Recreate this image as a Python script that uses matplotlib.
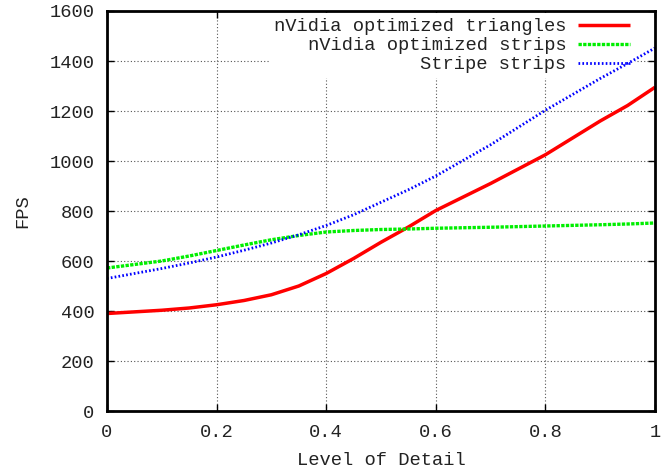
import matplotlib
matplotlib.use("Agg")
import matplotlib.pyplot as plt

# Level of detail samples
lod = [0.0, 0.1, 0.15, 0.2, 0.25, 0.3, 0.35, 0.4, 0.45, 0.5, 0.55, 0.6, 0.7, 0.8, 0.9, 0.95, 1.0]

fps_nv_tri = [390, 403, 412, 425, 442, 465, 500, 550, 610, 675, 736, 802, 910, 1025, 1160, 1222, 1295]
fps_nv_strips = [572, 600, 620, 642, 664, 685, 702, 716, 722, 726, 728, 731, 735, 740, 745, 748, 752]
fps_stripe = [530, 570, 592, 616, 643, 672, 705, 742, 785, 835, 885, 940, 1065, 1203, 1330, 1390, 1452]

labels = ["nVidia optimized triangles", "nVidia optimized strips", "Stripe strips"]

plt.rcParams['font.family'] = ['Liberation Mono', 'DejaVu Sans Mono']
plt.rcParams['font.size'] = 13.5

fig = plt.figure(figsize=(6.62, 4.69), dpi=100)
ax = fig.add_axes([107 / 662, 58 / 469, 548 / 662, 400 / 469])
ax.set_axisbelow(True)

ax.plot(lod, fps_nv_tri, color='#ff0000', lw=2.5, solid_capstyle='butt', label=labels[0], zorder=3)
ax.plot(lod, fps_nv_strips, color='#00ee00', lw=2.4, linestyle=(0, (1.0, 0.4)), label=labels[1], zorder=3)
ax.plot(lod, fps_stripe, color='#0000ff', lw=2.0, linestyle=(0, (0.6, 0.8)), label=labels[2], zorder=3)

ax.set_xlim(0, 1)
ax.set_ylim(0, 1600)
ax.set_xticks([0, 0.2, 0.4, 0.6, 0.8, 1])
ax.set_xticklabels(['0', '0.2', '0.4', '0.6', '0.8', '1'])
ax.set_yticks(range(0, 1601, 200))
ax.tick_params(direction='in', length=5, width=1, top=True, right=True,
               colors='black', labelcolor='#222222', pad=9)
ax.grid(True, color='#555555', linestyle=(0, (1, 2)), linewidth=0.8)
for s in ax.spines.values():
    s.set_linewidth(2)
    s.set_zorder(4)

ax.set_xlabel("Level of Detail", color='#222222', labelpad=8)
ax.set_ylabel("FPS", color='#222222', labelpad=13)

leg = ax.legend(loc='upper right', bbox_to_anchor=(0.9635, 0.994), markerfirst=False,
                frameon=True, fancybox=False, framealpha=1, edgecolor='none',
                handlelength=2.8, handletextpad=0.6, labelspacing=0.1,
                borderaxespad=0.0, borderpad=0.25, alignment='right')
leg.set_zorder(2)
for t in leg.get_texts():
    t.set_ha('right')
    t.set_color('#222222')

fig.savefig("out.png", dpi=100)
